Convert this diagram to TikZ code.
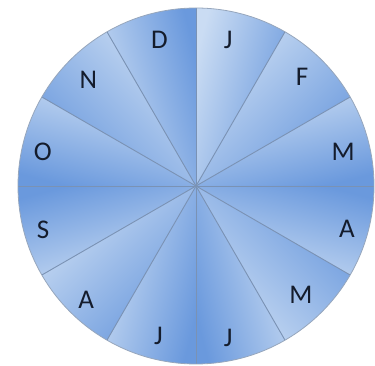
\documentclass[tikz,border=0pt]{standalone}
\usepackage{fontspec}
\setmainfont{Carlito}
\definecolor{pielight}{RGB}{202,220,243}
\definecolor{piedark}{RGB}{106,153,221}
\definecolor{spokegray}{RGB}{122,146,180}
\definecolor{rimgray}{RGB}{150,166,188}
\definecolor{monthtext}{RGB}{20,28,44}

\begin{document}
\begin{tikzpicture}[
    x=1pt, y=1pt,
    month/.style={font=\fontsize{27}{27}\selectfont, text=monthtext, inner sep=0pt},
    spoke/.style={draw=spokegray, line width=0.9pt},
    rim/.style={draw=rimgray, line width=0.8pt}
]
    \useasboundingbox (0,0) rectangle (375,366);
    \coordinate (c) at (196,180);

    % sectors: start angle / shading angle / letter / label angle / label radius
    \foreach \a/\sh/\txt/\la/\lr [count=\i] in {
        60/75/J/77.6/150, 30/45/F/45.8/152, 0/15/M/13/151,
        -30/165/A/-16/157, -60/135/M/-46/151, -90/-75/J/-78/155,
        240/75/J/256/155, 210/45/A/226/158, 180/195/S/196/159,
        150/-15/O/167.5/157, 120/-45/N/135.5/151, 90/105/D/104/151}
    {
        \shade[shading=axis, top color=pielight, bottom color=piedark, shading angle=\sh]
            (c) -- ++(\a:178) arc[start angle=\a, end angle=\a+30, radius=178] -- cycle;
        \node[month] (m\i) at ([shift={(\la:\lr)}]c) {\txt};
    }

    % spokes and rim
    \foreach \k in {0,...,11}
    {
        \coordinate (s\k) at ([shift={(\k*30:178)}]c);
        \draw[spoke] (c) -- (s\k);
    }
    \draw[rim] (c) circle[radius=178];
\end{tikzpicture}
\end{document}
